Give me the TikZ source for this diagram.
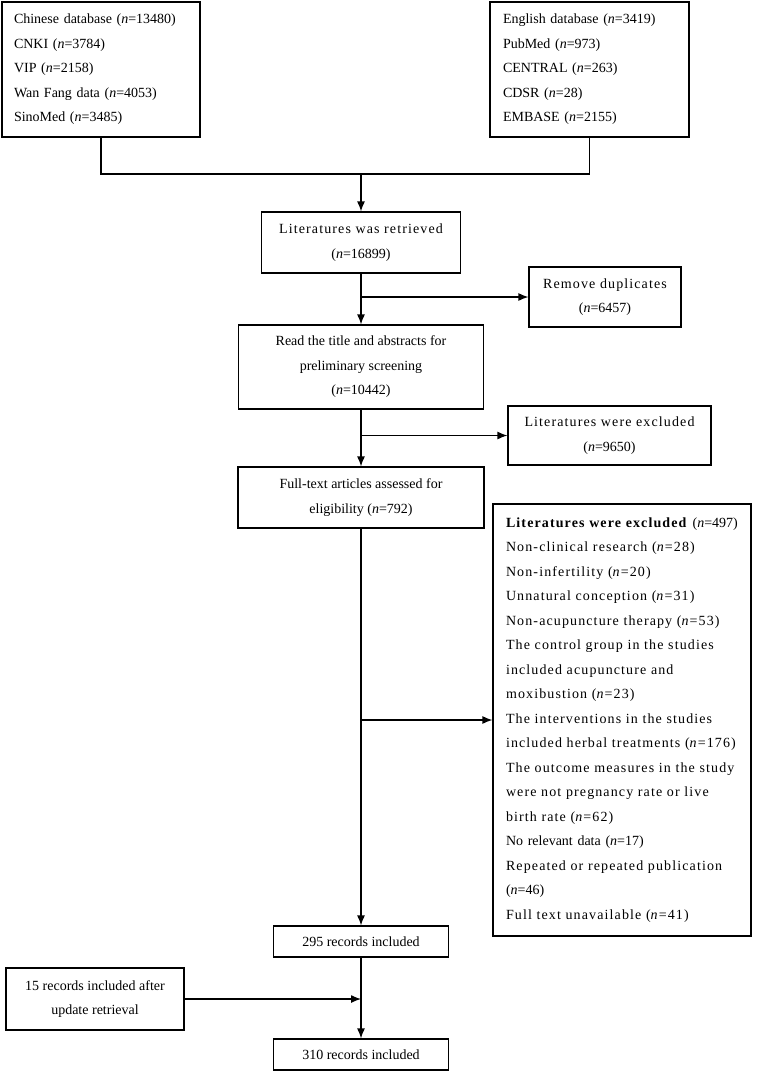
\documentclass[tikz,border=0pt]{standalone}
\usepackage{fontspec}
\setmainfont{Liberation Serif}
\usepackage{tikz}
\usetikzlibrary{arrows,arrows.meta}
\newcommand{\spacedtext}[1]{{\addfontfeature{LetterSpace=8}#1}}
\newcommand{\nval}[1]{(\textit{n}=#1)}
\tikzstyle{normalBox} = [shape=rectangle, draw=black, text=black, line width=1.2pt,
	align=center, fill=white, inner sep=0pt, font=\fontsize{14}{24.5}\selectfont]
\tikzstyle{listBox} = [normalBox, align=left]
\tikzstyle{flowLine} = [draw, line width=1.2pt]

\begin{document}
\begin{tikzpicture}[x=1pt, y=-1pt, >={Latex[length=10pt, width=8pt]}]
  \useasboundingbox (0,0) rectangle (757,1072);
  \node[listBox, minimum width=198pt, minimum height=135pt, text width=174pt] (chinese) at (101,69.5)
  	{Chinese database \nval{13480}\\CNKI \nval{3784}\\VIP \nval{2158}\\Wan Fang data \nval{4053}\\SinoMed \nval{3485}};
  \node[listBox, minimum width=199pt, minimum height=135pt, text width=173pt] (english) at (589.5,69.5)
  	{English database \nval{3419}\\PubMed \nval{973}\\CENTRAL \nval{263}\\CDSR \nval{28}\\EMBASE \nval{2155}};
  \node[normalBox, minimum width=199pt, minimum height=61pt] (retrieved) at (361,242.5)
  	{\spacedtext{Literatures was retrieved}\\\nval{16899}};
  \node[normalBox, minimum width=152pt, minimum height=60pt] (duplicates) at (605,297)
  	{\spacedtext{Remove duplicates}\\\nval{6457}};
  \node[normalBox, minimum width=245pt, minimum height=84pt] (screening) at (361,367)
  	{Read the title and abstracts for\\preliminary screening\\\nval{10442}};
  \node[normalBox, minimum width=203pt, minimum height=59pt] (excluded) at (609.5,435.5)
  	{\spacedtext{Literatures were excluded}\\\nval{9650}};
  \node[normalBox, minimum width=246pt, minimum height=61pt] (fulltext) at (361,497.5)
  	{Full-text articles assessed for\\eligibility \nval{792}};
  \node[listBox, minimum width=258pt, minimum height=432pt, text width=232pt] (reasons) at (622,720)
  	{\textbf{\spacedtext{Literatures were excluded}}\hspace{5pt}\nval{497}\\
	\spacedtext{Non-clinical research \nval{28}}\\
	\spacedtext{Non-infertility \nval{20}}\\
	\spacedtext{Unnatural conception \nval{31}}\\
	\spacedtext{Non-acupuncture therapy \nval{53}}\\
	\spacedtext{The control group in the studies}\\
	\spacedtext{included acupuncture and}\\
	\spacedtext{moxibustion \nval{23}}\\
	\spacedtext{The interventions in the studies}\\
	\spacedtext{included herbal treatments \nval{176}}\\
	\spacedtext{The outcome measures in the study}\\
	\spacedtext{were not pregnancy rate or live}\\
	\spacedtext{birth rate \nval{62}}\\
	No relevant data \nval{17}\\
	\spacedtext{Repeated or repeated publication}\\
	\nval{46}\\
	\spacedtext{Full text unavailable \nval{41}}};
  \node[normalBox, minimum width=175pt, minimum height=31pt] (included) at (361,941.5)
  	{295 records included};
  \node[normalBox, minimum width=178pt, minimum height=62pt] (update) at (95,999)
  	{15 records included after\\update retrieval};
  \node[normalBox, minimum width=175pt, minimum height=31pt] (final) at (361,1054.5)
  	{310 records included};

  \coordinate (merge) at (361,174);
  \draw[flowLine] (chinese.south) |- (merge) -| (english.south);
  \draw[flowLine, ->] (merge) -- (retrieved.north);
  \draw[flowLine, ->] (retrieved) -- (screening);
  \draw[flowLine, ->] (retrieved.south |- duplicates.west) -- (duplicates.west);
  \draw[flowLine, ->] (screening) -- (fulltext);
  \draw[flowLine, ->] (screening.south |- excluded.west) -- (excluded.west);
  \draw[flowLine, ->] (fulltext) -- (included);
  \draw[flowLine, ->] (fulltext.south |- reasons.west) -- (reasons.west);
  \draw[flowLine, ->] (included) -- (final);
  \draw[flowLine, ->] (update.east) -- (update.east -| final.north);
\end{tikzpicture}
\end{document}
